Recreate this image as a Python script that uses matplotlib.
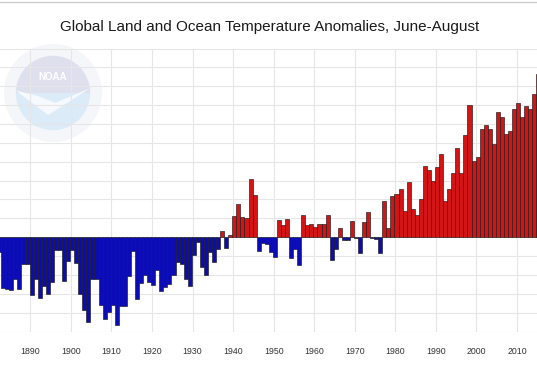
import numpy as np
import matplotlib
matplotlib.use("Agg")
import matplotlib.pyplot as plt
from matplotlib.patches import Circle, Wedge, Polygon
from matplotlib.lines import Line2D

plt.rcParams['font.family'] = ['Liberation Sans', 'DejaVu Sans']

# June-August anomalies (deg C), 1880-2015
years = list(range(1880, 2016))
anomaly = [
    -0.15, -0.10, -0.08, -0.27, -0.275, -0.28, -0.22, -0.275, -0.14, -0.14,      # 1880s
    -0.305, -0.22, -0.32, -0.26, -0.30, -0.235, -0.067, -0.07, -0.23, -0.127,    # 1890s
    -0.07, -0.137, -0.30, -0.385, -0.447, -0.224, -0.222, -0.36, -0.432, -0.395, # 1900s
    -0.357, -0.464, -0.367, -0.367, -0.208, -0.075, -0.33, -0.243, -0.20, -0.236,# 1910s
    -0.255, -0.174, -0.283, -0.262, -0.248, -0.20, -0.13, -0.143, -0.22, -0.26,  # 1920s
    -0.097, -0.025, -0.159, -0.20, -0.08, -0.133, -0.062, 0.032, -0.058, 0.014,  # 1930s
    0.111, 0.178, 0.108, 0.10, 0.309, 0.221, -0.074, -0.03, -0.035, -0.08,       # 1940s
    -0.104, 0.09, 0.062, 0.094, -0.11, -0.065, -0.145, 0.12, 0.062, 0.072,       # 1950s
    0.055, 0.072, 0.072, 0.12, -0.122, -0.062, 0.05, -0.016, -0.016, 0.088,      # 1960s
    -0.005, -0.083, 0.078, 0.134, -0.004, -0.009, -0.083, 0.192, 0.046, 0.216,   # 1970s
    0.23, 0.256, 0.141, 0.29, 0.147, 0.118, 0.203, 0.375, 0.357, 0.297,          # 1980s
    0.371, 0.442, 0.191, 0.253, 0.341, 0.473, 0.339, 0.539, 0.698, 0.405,        # 1990s
    0.424, 0.571, 0.592, 0.574, 0.495, 0.663, 0.636, 0.546, 0.565, 0.68,         # 2000s
    0.712, 0.636, 0.694, 0.68, 0.76, 0.866,                                      # 2010s
]
tick_years = list(range(1890, 2011, 10))

W, H = 537, 384
fig = plt.figure(figsize=(W / 100, H / 100), dpi=100)
fig.patch.set_facecolor('white')

# faded NOAA watermark behind the plot
lg = fig.add_axes([4 / W, 1 - 142 / H, 98 / W, 98 / H], zorder=0)
lg.set_xlim(-1, 1)
lg.set_ylim(-1, 1)
lg.set_aspect('equal')
lg.axis('off')
lg.add_patch(Circle((0, 0), 1.0, facecolor='#f5f6fa', edgecolor='none'))
lg.add_patch(Wedge((0, 0), 0.76, 0, 180, facecolor='#dfe0ee', edgecolor='none'))
lg.add_patch(Wedge((0, 0), 0.76, 180, 360, facecolor='#dcebf8', edgecolor='none'))
lg.add_patch(Polygon([[-0.76, 0.05], [-0.1, -0.45], [0.76, 0.1], [0.05, -0.2], [-0.35, -0.05]],
                     facecolor='#f6f9fd', edgecolor='none'))
lg.text(0, 0.33, 'NOAA', ha='center', va='center', color='white', fontsize=7, fontweight='bold')

ax = fig.add_axes([0, (H - 331.5) / H, 1, 283 / H], zorder=1)
ax.set_facecolor('none')

colors = ['#d41414' if v >= 0 else '#0c0cb6' for v in anomaly]
ax.bar(np.array(years) + 0.3, anomaly, width=1.0, color=colors,
       edgecolor='#1a1a1a', linewidth=0.45, zorder=3)

ax.set_xlim(1882.5, 2014.95)
ax.set_ylim(-0.5, 1.0)
ax.set_yticks(np.arange(-0.5, 1.01, 0.1))
ax.set_xticks(tick_years)
ax.set_xticklabels([str(y) for y in tick_years])
ax.tick_params(axis='x', length=0, pad=11.5, labelsize=6.3, labelcolor='#333333')
ax.tick_params(axis='y', length=0, labelleft=False)
ax.grid(True, color='#e6e6e6', linewidth=0.8)
ax.set_axisbelow(True)
for s in ax.spines.values():
    s.set_visible(False)

fig.text(270 / W, 1 - 26.5 / H, 'Global Land and Ocean Temperature Anomalies, June-August',
         ha='center', va='center', fontsize=11, color='#1a1a1a')
fig.add_artist(Line2D([0, 1], [1 - 1.7 / H, 1 - 1.7 / H], color='#cccccc', linewidth=1.0))

fig.savefig('out.png', dpi=100)
